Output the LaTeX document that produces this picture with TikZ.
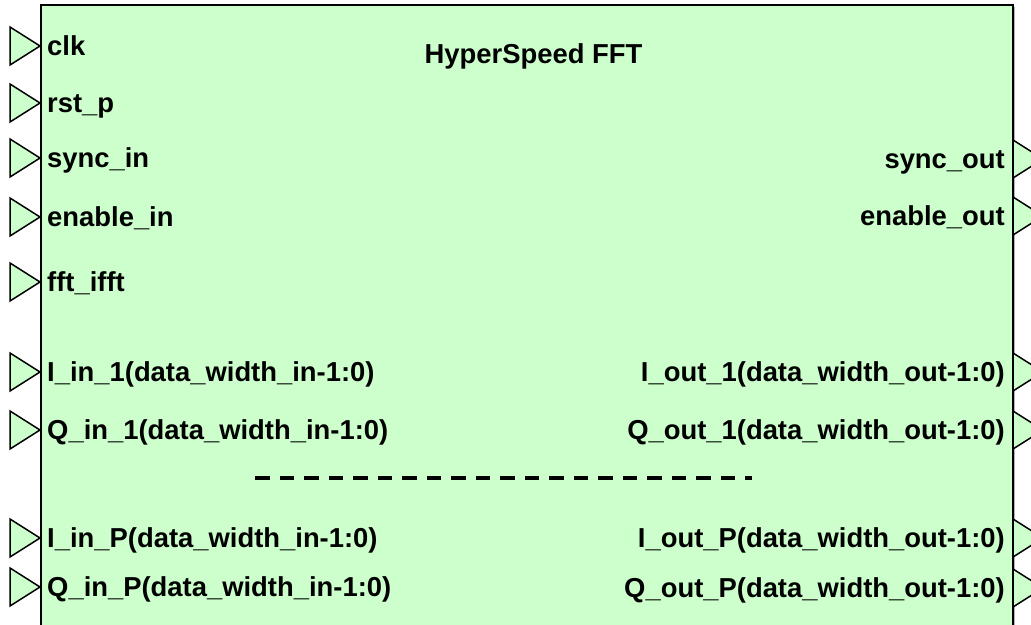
\documentclass[tikz,border=0pt]{standalone}
\usepackage{fontspec}
\setmainfont{Liberation Sans}
\definecolor{boxgreen}{HTML}{CCFFCC}
\begin{document}
\begin{tikzpicture}[x=1pt,y=-1pt,
  lbl/.style={font=\fontsize{27.4}{32}\selectfont\bfseries, inner sep=0pt},
  inport/.pic={\draw[fill=boxgreen, draw=black, line width=1.5pt, line join=miter] (-30,-19) -- (0,0) -- (-30,19) -- cycle;},
  outport/.pic={\draw[fill=boxgreen, draw=black, line width=1.5pt, line join=miter] (0,-19) -- (30,0) -- (0,19) -- cycle;}]
\useasboundingbox (0,0) rectangle (1031,624);
% block with shadow
\fill[gray!60] (43,7) rectangle (1015,650);
\draw[fill=boxgreen, line width=1.5pt] (41,5) rectangle (1013,650);
\node[lbl, anchor=base] (title) at (533.5,63) {HyperSpeed FFT};
% input ports
\foreach \y/\n/\t in {46/clk/clk, 103/rst/rst\_p, 158/syncin/sync\_in, 217/enin/enable\_in, 282/fft/fft\_ifft,
  372/iin1/I\_in\_1(data\_width\_in-1:0), 430/qin1/Q\_in\_1(data\_width\_in-1:0),
  538/iinp/I\_in\_P(data\_width\_in-1:0), 587/qinp/Q\_in\_P(data\_width\_in-1:0)}{
  \pic at (40,\y) {inport};
  \node[lbl, anchor=base west] (\n) at (47,\y+9.5) {\t};
}
% output ports
\foreach \y/\n/\t in {159/syncout/sync\_out, 216/enout/enable\_out,
  372/iout1/I\_out\_1(data\_width\_out-1:0), 430/qout1/Q\_out\_1(data\_width\_out-1:0),
  538/ioutp/I\_out\_P(data\_width\_out-1:0), 588/qoutp/Q\_out\_P(data\_width\_out-1:0)}{
  \pic at (1013,\y) {outport};
  \node[lbl, anchor=base east] (\n) at (1005,\y+9.5) {\t};
}
% separator
\draw[line width=4pt, dash pattern=on 14.7pt off 9.8pt] (255,478) -- (752,478);
\end{tikzpicture}
\end{document}
